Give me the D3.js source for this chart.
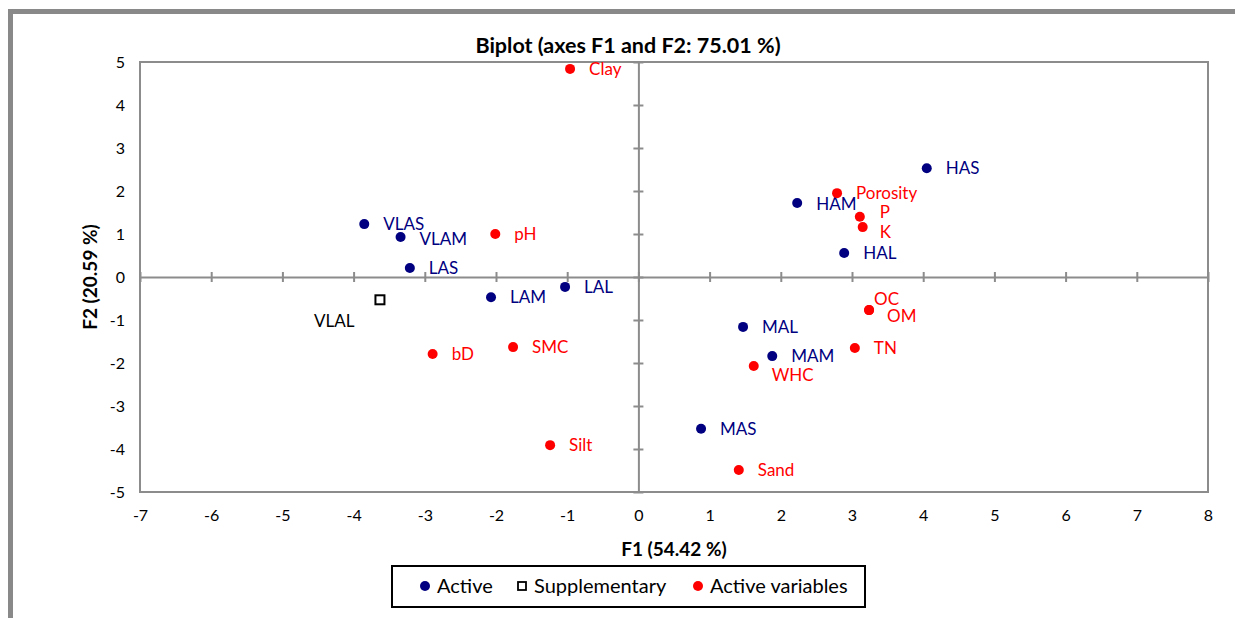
<!DOCTYPE html>
<html>
<head>
<meta charset="utf-8">
<script src="https://cdn.jsdelivr.net/npm/d3@7"></script>
<style>
  body { margin: 0; background: #fff; }
  svg { font-family: Lato, "Open Sans", sans-serif; }
</style>
</head>
<body>
<svg></svg>
<script>
const size = { w: 1235, h: 618 };
const plot = { l: 140, r: 1208, t: 62, b: 492 };

// observations (active)
const activeNames = ["VLAS", "VLAM", "LAS", "LAM", "LAL", "HAS", "HAM", "HAL", "MAL", "MAM", "MAS"];
const activeF1 = [-3.85, -3.34, -3.21, -2.07, -1.03, 4.05, 2.23, 2.89, 1.47, 1.88, 0.88];
const activeF2 = [1.23, 0.93, 0.21, -0.47, -0.23, 2.53, 1.72, 0.56, -1.16, -1.84, -3.53];

// supplementary observation
const suppNames = ["VLAL"];
const suppF1 = [-3.63];
const suppF2 = [-0.53];

// active variables
const varNames = ["Clay", "pH", "bD", "SMC", "Silt", "Porosity", "P", "K", "OC", "OM", "TN", "WHC", "Sand"];
const varF1 = [-0.96, -2.01, -2.89, -1.76, -1.24, 2.79, 3.11, 3.15, 3.24, 3.24, 3.04, 1.62, 1.41];
const varF2 = [4.84, 1.00, -1.79, -1.63, -3.91, 1.95, 1.40, 1.16, -0.77, -0.77, -1.65, -2.07, -4.49];

const xTicks = d3.range(-7, 9);
const yTicks = d3.range(-5, 6);

// label nudges (px) where the default spot would collide
const labelShift = {
  VLAM: [0, 2], HAM: [0, 1], P: [1, -5], K: [-2, 5],
  OC: [-14, -11], OM: [-1, 6], WHC: [-1, 9], VLAL: [-85, 21]
};

const svg = d3.select("svg").attr("width", size.w).attr("height", size.h);

// outer chart frame (cut off by the window on the right and bottom)
svg.append("rect")
  .attr("x", 10.5).attr("y", 11.5)
  .attr("width", 1300).attr("height", 700)
  .attr("fill", "#fff").attr("stroke", "#898989").attr("stroke-width", 5);

const x = d3.scaleLinear().domain([-7, 8]).range([plot.l, plot.r]);
const y = d3.scaleLinear().domain([-5, 5]).range([plot.b, plot.t]);

// plot frame
svg.append("rect")
  .attr("x", plot.l).attr("y", plot.t)
  .attr("width", plot.r - plot.l).attr("height", plot.b - plot.t)
  .attr("fill", "none").attr("stroke", "#8c8c8c").attr("stroke-width", 2);

// zero axes with crossing ticks
const xZero = svg.append("g").attr("transform", `translate(0,${y(0)})`)
  .call(d3.axisBottom(x).tickValues(xTicks).tickSize(5).tickFormat("").tickSizeOuter(0));
xZero.selectAll(".tick line").attr("y1", -5);
const yZero = svg.append("g").attr("transform", `translate(${x(0)},0)`)
  .call(d3.axisLeft(y).tickValues(yTicks).tickSize(5).tickFormat("").tickSizeOuter(0));
yZero.selectAll(".tick line").attr("x1", 5);
[xZero, yZero].forEach(g => {
  g.selectAll("path, line").attr("stroke", "#8c8c8c").attr("stroke-width", 2);
});

// tick labels on the outside (plain hyphen for negatives)
const xLab = svg.append("g").attr("transform", `translate(0,${plot.b})`)
  .call(d3.axisBottom(x).tickValues(xTicks).tickSize(0).tickPadding(18).tickFormat(d => String(d)));
const yLab = svg.append("g").attr("transform", `translate(${plot.l},0)`)
  .call(d3.axisLeft(y).tickValues(yTicks).tickSize(0).tickPadding(15).tickFormat(d => String(d)));
[xLab, yLab].forEach(g => {
  g.select(".domain").remove();
  g.selectAll("text").attr("font-family", "Lato, sans-serif").attr("font-size", 16).attr("fill", "#000");
});

// titles
svg.append("text").attr("x", 628).attr("y", 53).attr("text-anchor", "middle")
  .attr("font-size", 21.5).attr("font-weight", "bold").text("Biplot (axes F1 and F2: 75.01 %)");
svg.append("text").attr("x", (plot.l + plot.r) / 2).attr("y", 556).attr("text-anchor", "middle")
  .attr("font-size", 19).attr("font-weight", "bold").text("F1 (54.42 %)");
svg.append("text").attr("transform", `translate(97,${(plot.t + plot.b) / 2}) rotate(-90)`).attr("text-anchor", "middle")
  .attr("font-size", 19).attr("font-weight", "bold").text("F2 (20.59 %)");

function drawPoints(names, f1, f2, color, shape) {
  const data = names.map((n, i) => ({ name: n, x: f1[i], y: f2[i] }));
  const g = svg.append("g");
  if (shape === "square") {
    g.selectAll("rect").data(data).join("rect")
      .attr("x", d => x(d.x) - 4.5).attr("y", d => y(d.y) - 4.5)
      .attr("width", 9).attr("height", 9)
      .attr("fill", "#fff").attr("stroke", color).attr("stroke-width", 2);
  } else {
    g.selectAll("circle").data(data).join("circle")
      .attr("cx", d => x(d.x)).attr("cy", d => y(d.y)).attr("r", 5)
      .attr("fill", color);
  }
  g.selectAll("text").data(data).join("text")
    .attr("x", d => x(d.x) + 19 + (labelShift[d.name] || [0, 0])[0])
    .attr("y", d => y(d.y) + 6 + (labelShift[d.name] || [0, 0])[1])
    .attr("font-size", 17).attr("fill", color)
    .text(d => d.name);
}

drawPoints(activeNames, activeF1, activeF2, "#000080", "circle");
drawPoints(suppNames, suppF1, suppF2, "#000", "square");
drawPoints(varNames, varF1, varF2, "#ff0000", "circle");

// legend
const legend = svg.append("g");
legend.append("rect").attr("x", 392).attr("y", 566).attr("width", 473).attr("height", 41)
  .attr("fill", "#fff").attr("stroke", "#000").attr("stroke-width", 2);
const legendItems = [
  { label: "Active", color: "#000080", shape: "circle", x: 425 },
  { label: "Supplementary", color: "#000", shape: "square", x: 522 },
  { label: "Active variables", color: "#ff0000", shape: "circle", x: 698 }
];
legendItems.forEach(d => {
  if (d.shape === "square") {
    legend.append("rect").attr("x", d.x - 4).attr("y", 582).attr("width", 8).attr("height", 8)
      .attr("fill", "#fff").attr("stroke", d.color).attr("stroke-width", 1.8);
  } else {
    legend.append("circle").attr("cx", d.x).attr("cy", 586).attr("r", 5).attr("fill", d.color);
  }
  legend.append("text").attr("x", d.x + 12).attr("y", 593).attr("font-size", 20).text(d.label);
});
</script>
</body>
</html>
